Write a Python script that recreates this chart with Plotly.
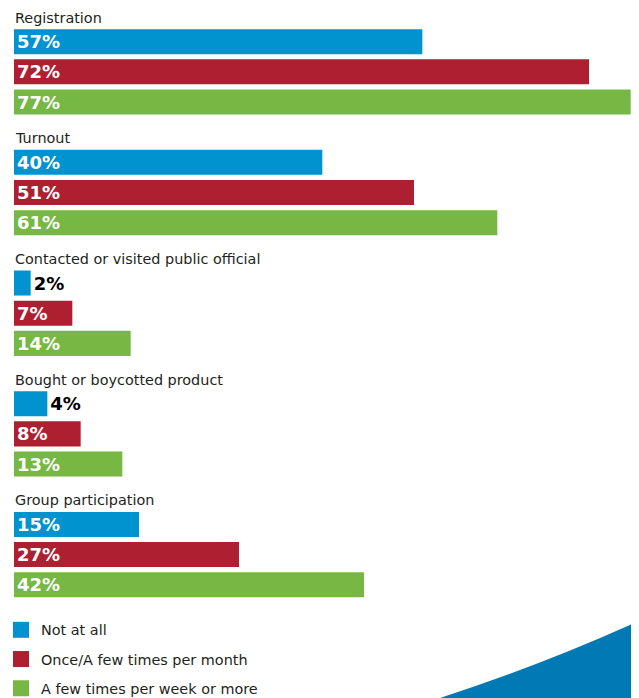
import plotly.graph_objects as go

# ---- data ----
groups = ["Registration", "Turnout", "Contacted or visited public official",
          "Bought or boycotted product", "Group participation"]
series = ["Not at all", "Once/A few times per month", "A few times per week or more"]

# printed percentage labels
pct_not_at_all = [57, 40, 2, 4, 15]
pct_monthly = [72, 51, 7, 8, 27]
pct_weekly = [77, 61, 14, 13, 42]

# bar lengths as drawn in the picture (Registration/Turnout bars are drawn shorter than their labels)
len_not_at_all = [49, 37, 2, 4, 15]
len_monthly = [69, 48, 7, 8, 27]
len_weekly = [74, 58, 14, 13, 42]

colors = ["#0093D0", "#AE1F32", "#76B843"]

pcts = [pct_not_at_all, pct_monthly, pct_weekly]
lens = [len_not_at_all, len_monthly, len_weekly]

FONT = "DejaVu Sans"
TXT = "#231F20"

# category order: header row then three bar rows per group
cat_order = []
for g in groups:
    cat_order.append(g)
    for s in series:
        cat_order.append(g + "|" + s)

fig = go.Figure()
for si, s in enumerate(series):
    ys = [g + "|" + s for g in groups]
    texts = [f"{p}%" for p in pcts[si]]
    tpos = ["outside" if v < 5 else "inside" for v in lens[si]]
    fig.add_trace(go.Bar(
        x=lens[si], y=ys, orientation="h",
        marker=dict(color=colors[si], line=dict(width=0)),
        text=texts, textposition=tpos, insidetextanchor="start",
        constraintext="none", cliponaxis=False,
        insidetextfont=dict(family=FONT, size=18, color="white", weight="bold"),
        outsidetextfont=dict(family=FONT, size=18, color="black", weight="bold"),
        showlegend=False, hoverinfo="skip",
    ))

# legend proxies (square markers)
for si, s in enumerate(series):
    fig.add_trace(go.Scatter(
        x=[None], y=[None], mode="markers", name=s,
        marker=dict(symbol="square", size=17, color=colors[si]),
        legendgroup=f"g{si}", showlegend=True,
    ))

# group headers
for g in groups:
    fig.add_annotation(x=0, y=g, xref="x", yref="y", text=g, showarrow=False,
                       xanchor="left", yanchor="middle", xshift=-1, yshift=-6,
                       font=dict(family=FONT, size=14.4, color=TXT))

ROW = 30.17
H_PLOT = 598
top_val = -3.5 / ROW
bottom_val = top_val + H_PLOT / ROW

# decorative corner swoosh
fig.add_shape(type="path", xref="paper", yref="paper",
              path="M 0.6816,-0.1538 Q 0.8448,-0.0987 1.0,-0.0251 L 1.0,-0.1538 Z",
              fillcolor="#0079B5", line=dict(width=0), layer="below")

fig.update_layout(
    width=631, height=690,
    margin=dict(l=6, r=0, t=0, b=92, autoexpand=False),
    paper_bgcolor="white", plot_bgcolor="white",
    barmode="overlay", bargap=0.171,
    font=dict(family=FONT, size=14, color=TXT),
    xaxis=dict(range=[0, 75], visible=False, fixedrange=True),
    yaxis=dict(type="category", categoryorder="array", categoryarray=cat_order,
               range=[bottom_val, top_val], visible=False, fixedrange=True),
    legend=dict(x=-0.0208, y=-0.0133, xanchor="left", yanchor="top",
                orientation="v", tracegroupgap=7.5, itemsizing="trace",
                font=dict(family=FONT, size=14.4, color=TXT),
                bgcolor="rgba(0,0,0,0)"),
    showlegend=True,
)

fig.write_html("out.html")
